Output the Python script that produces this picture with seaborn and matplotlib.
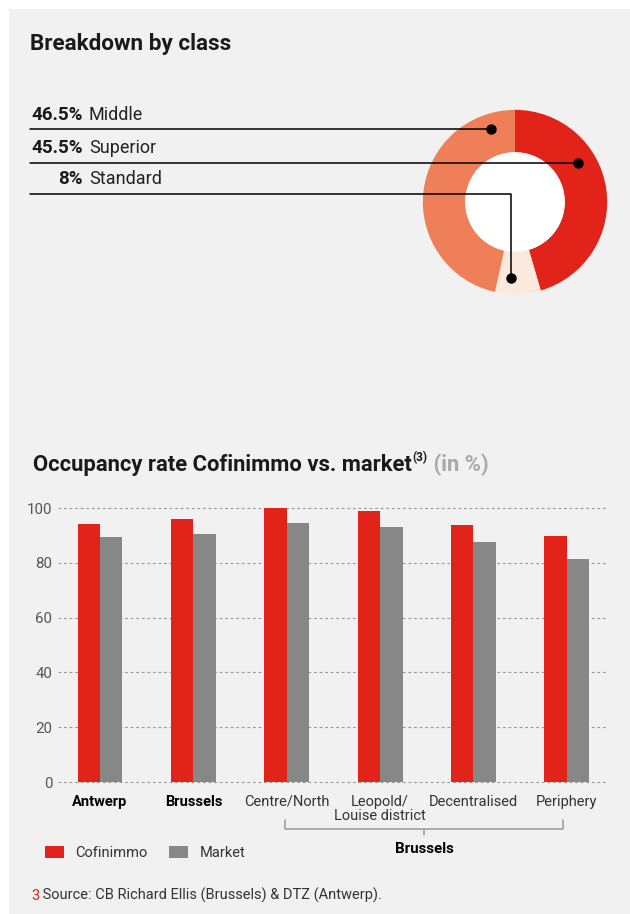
import matplotlib
matplotlib.use("Agg")
import matplotlib.pyplot as plt
import matplotlib.transforms as mtransforms
from matplotlib.lines import Line2D
from matplotlib.patches import Rectangle, Circle
import seaborn as sns
import pandas as pd

# ---------------- data ----------------
class_labels = ["Middle", "Superior", "Standard"]
class_shares = [46.5, 45.5, 8.0]
class_pct_text = ["46.5%", "45.5%", "8%"]

regions = ["Antwerp", "Brussels", "Centre/North", "Leopold/\nLouise district",
           "Decentralised", "Periphery"]
cofinimmo = [94.0, 95.9, 100.0, 99.0, 93.7, 89.9]
market = [89.5, 90.6, 94.4, 92.9, 87.6, 81.5]
series_names = ["Cofinimmo", "Market"]
yticks = [0, 20, 40, 60, 80, 100]

# ---------------- style ----------------
sns.set_theme(style="white")
plt.rcParams["font.family"] = ["Roboto", "DejaVu Sans"]

RED = "#E2231A"
ORANGE = "#EF7F59"
LIGHT = "#FCE9DE"
GREY = "#878787"
BG = "#F0F1F0"
DARK = "#1A1A1A"

W, H = 630, 914
fig = plt.figure(figsize=(W / 100, H / 100), dpi=100)
fig.patch.set_facecolor("white")


def fx(x):
    return x / W


def fy(y):
    return 1 - y / H


fig.add_artist(Rectangle((fx(9), 0), 1 - fx(9), fy(9), transform=fig.transFigure,
                         facecolor=BG, edgecolor="none", zorder=-10))

# ---------------- donut ----------------
pie_ax = fig.add_axes([fx(421), fy(296), 188 / W, 188 / H])
order = [1, 2, 0]  # Superior clockwise from top, then Standard, then Middle
colors_map = {"Middle": ORANGE, "Superior": RED, "Standard": LIGHT}
pie_ax.pie([class_shares[i] for i in order],
           colors=[colors_map[class_labels[i]] for i in order],
           startangle=90, counterclock=False, radius=1,
           wedgeprops=dict(width=0.46, edgecolor="none", linewidth=0))
pie_ax.add_patch(Circle((0, 0), 0.54, facecolor="white", edgecolor="none", zorder=3))
pie_ax.set_xlim(-1.02, 1.02)
pie_ax.set_ylim(-1.02, 1.02)
pie_ax.set_axis_off()

# ---------------- titles ----------------
fig.text(fx(30), fy(50), "Breakdown by class", fontsize=16.2, fontweight="bold",
         color=DARK, va="baseline", ha="left")

t1 = fig.text(fx(33), fy(471), "Occupancy rate Cofinimmo vs. market", fontsize=15.8,
              fontweight="bold", color=DARK, va="baseline", ha="left")
sup = pie_ax.annotate("(3)", xy=(1, 1), xycoords=t1, xytext=(0.5, -7),
                      textcoords="offset points", fontsize=8.5, fontweight="bold",
                      color=DARK, va="bottom", ha="left", annotation_clip=False)
pie_ax.annotate(" (in %)", xy=(1, 0), xycoords=(sup, t1), xytext=(0, 0),
                textcoords="offset points", fontsize=15.8, fontweight="bold",
                color="#A9A9A9", va="bottom", ha="left", annotation_clip=False)

# leader lines and labels
label_baselines = [120, 153, 184]
leader_y = [129, 163, 194]
dot_pts = [(491, 129), (578, 163), (511, 278)]
for i, lab in enumerate(class_labels):
    fig.text(fx(83), fy(label_baselines[i]), class_pct_text[i], fontsize=13.5,
             fontweight="bold", color=DARK, ha="right", va="baseline")
    fig.text(fx(89), fy(label_baselines[i]), lab, fontsize=13, color="#222222",
             ha="left", va="baseline")
    dx, dy = dot_pts[i]
    if lab == "Standard":
        xs = [fx(30), fx(dx), fx(dx)]
        ys = [fy(leader_y[i]), fy(leader_y[i]), fy(dy)]
    else:
        xs = [fx(30), fx(dx)]
        ys = [fy(leader_y[i]), fy(leader_y[i])]
    fig.add_artist(Line2D(xs, ys, transform=fig.transFigure, color="black",
                          lw=1.1, zorder=5))
    fig.add_artist(Line2D([fx(dx)], [fy(dy)], transform=fig.transFigure,
                          marker="o", markersize=6.5, color="black", lw=0, zorder=6))

# ---------------- bar chart ----------------
df = pd.DataFrame({
    "region": regions * 2,
    "series": [series_names[0]] * len(regions) + [series_names[1]] * len(regions),
    "value": cofinimmo + market,
})

y0_px, y100_px = 782, 508
ppu = (y0_px - y100_px) / 100
ylo, yhi = -0.6, 101.2
ax_bottom_px = y0_px - ylo * ppu
ax_top_px = y100_px - (yhi - 100) * ppu
ax = fig.add_axes([fx(58), fy(ax_bottom_px), (607 - 58) / W,
                   (ax_bottom_px - ax_top_px) / H])
ax.set_facecolor("none")
sns.barplot(data=df, x="region", y="value", hue="series", order=regions,
            hue_order=series_names, palette=[RED, GREY], saturation=1,
            width=0.48, gap=0, ax=ax, legend=True, zorder=3,
            edgecolor="none", linewidth=0)
ax.set_xlim(-0.45, 5.43)
ax.set_ylim(ylo, yhi)
ax.set_yticks(yticks)
ax.set_yticklabels([str(v) for v in yticks], fontsize=10.8, color="#555555")
for lbl in ax.get_yticklabels():
    lbl.set_va("center_baseline")
ax.tick_params(axis="y", length=0, pad=4)
ax.tick_params(axis="x", length=0, pad=8)
ax.set_xticks(range(len(regions)))
ax.set_xticklabels(regions, fontsize=10.5, color="#333333", linespacing=1.0)
for i, lbl in enumerate(ax.get_xticklabels()):
    if i < 2:
        lbl.set_fontweight("bold")
        lbl.set_color("black")
for s in ax.spines.values():
    s.set_visible(False)
for v in yticks:
    ax.axhline(v, color="#9A9A9A", lw=0.8, ls=(0, (2.5, 2.5)), zorder=1,
               clip_on=False)
ax.set_xlabel("")
ax.set_ylabel("")

# bracket for Brussels sub-districts
trans = mtransforms.blended_transform_factory(ax.transData, fig.transFigure)
bl, br = 1.98, 4.96
bc = (bl + br) / 2
fig.add_artist(Line2D([bl, bl, br, br], [fy(820), fy(829), fy(829), fy(820)],
                      transform=trans, color="#9A9A9A", lw=1.1))
fig.add_artist(Line2D([bc, bc], [fy(829), fy(835)], transform=trans,
                      color="#9A9A9A", lw=1.1))
fig.text(bc, fy(853), "Brussels", transform=trans, fontsize=10.8,
         fontweight="bold", color="black", ha="center", va="baseline")

# legend
handles, labels = ax.get_legend_handles_labels()
ax.legend(handles, labels, loc="center left",
          bbox_to_anchor=(fx(45), fy(853)), bbox_transform=fig.transFigure,
          ncol=2, frameon=False, fontsize=10.5, handlelength=1.3,
          handleheight=0.9, handletextpad=0.8, columnspacing=1.45,
          borderpad=0, borderaxespad=0, labelcolor="#333333")

# footnote
fn = fig.text(fx(31), fy(900), "3", fontsize=10.5, color=RED, va="baseline", ha="left")
ax.annotate(" Source: CB Richard Ellis (Brussels) & DTZ (Antwerp).", xy=(1, 0),
            xycoords=fn, fontsize=10.5, color="#333333", va="bottom", ha="left",
            annotation_clip=False)

fig.savefig("out.png", dpi=100, facecolor=fig.get_facecolor())
